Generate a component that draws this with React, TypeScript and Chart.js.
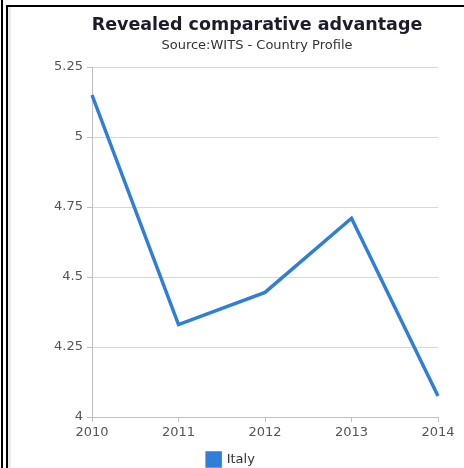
import React, { useEffect, useRef } from "react";
import { Chart, registerables } from "chart.js";

Chart.register(...registerables);

const titleText = "Revealed comparative advantage";
const subtitleText = "Source:WITS - Country Profile";
const years = ["2010", "2011", "2012", "2013", "2014"];
const seriesName = "Italy";
const italyValues = [5.15, 4.33, 4.445, 4.71, 4.075];
const yTicks = [4, 4.25, 4.5, 4.75, 5, 5.25];

const FONT = "'DejaVu Sans', Verdana, sans-serif";

const titlePlugin = {
  id: "customTitle",
  afterDraw(chart: any) {
    const ctx = chart.ctx;
    ctx.save();
    ctx.textAlign = "center";
    ctx.textBaseline = "alphabetic";
    ctx.fillStyle = "#1c1c2a";
    ctx.font = "bold 17.5px " + FONT;
    ctx.fillText(titleText, 233, 22);
    ctx.fillStyle = "#333333";
    ctx.font = "13px " + FONT;
    ctx.fillText(subtitleText, 233, 41);
    ctx.restore();
  },
};

export default function App() {
  const ref = useRef<HTMLCanvasElement | null>(null);
  useEffect(() => {
    if (!ref.current) return;
    Chart.defaults.font.family = FONT;
    const chart = new Chart(ref.current, {
      type: "line",
      data: {
        labels: years,
        datasets: [
          {
            label: seriesName,
            data: italyValues,
            borderColor: "#2f7ed8",
            backgroundColor: "#2f7ed8",
            borderWidth: 3.5,
            pointRadius: 0,
            pointHoverRadius: 0,
            tension: 0,
            fill: false,
          },
        ],
      },
      options: {
        animation: false,
        responsive: false,
        maintainAspectRatio: false,
        layout: { padding: { top: 59, right: 26, left: 0, bottom: 0 } },
        plugins: {
          title: { display: false },
          tooltip: { enabled: false },
          legend: {
            position: "bottom",
            labels: {
              boxWidth: 13,
              boxHeight: 13,
              padding: 8,
              color: "#333333",
              font: { size: 13, family: FONT },
            },
          },
        },
        scales: {
          x: {
            type: "category",
            offset: false,
            afterFit(scale: any) {
              scale.height = 28;
            },
            grid: {
              drawOnChartArea: false,
              drawTicks: true,
              tickLength: 5,
              tickColor: "#c0c0c0",
            },
            border: { display: true, color: "#c0c0c0" },
            ticks: {
              color: "#555555",
              font: { size: 13, family: FONT },
              padding: 3,
              maxRotation: 0,
            },
          },
          y: {
            min: 4,
            max: 5.25,
            afterFit(scale: any) {
              scale.width = 68;
            },
            afterBuildTicks(scale: any) {
              scale.ticks = yTicks.map((v) => ({ value: v }));
            },
            grid: {
              color: "#d8d8d8",
              tickLength: 5,
              tickColor: "#c0c0c0",
            },
            border: { display: true, color: "#c0c0c0" },
            ticks: {
              color: "#555555",
              font: { size: 13, family: FONT },
              padding: 4,
              callback: (v: any) => String(v),
            },
          },
        },
      },
      plugins: [titlePlugin],
    });
    return () => chart.destroy();
  }, []);

  return (
    <div style={{ position: "fixed", left: 0, top: 0, width: 464, height: 468, background: "#fff", overflow: "hidden" }}>
      <div style={{ position: "absolute", left: 1, top: 0, width: 2, height: 468, background: "#000" }} />
      <div style={{ position: "absolute", left: 6, top: 5, width: 2, height: 463, background: "#000" }} />
      <div style={{ position: "absolute", left: 6, top: 5, width: 458, height: 2, background: "#000" }} />
      <div style={{ position: "absolute", left: 8, top: 7, width: 3, height: 461, background: "#ececec" }} />
      <canvas
        ref={ref}
        width={440}
        height={468}
        style={{ position: "absolute", left: 24, top: 8, width: 440, height: 468 }}
      />
    </div>
  );
}
